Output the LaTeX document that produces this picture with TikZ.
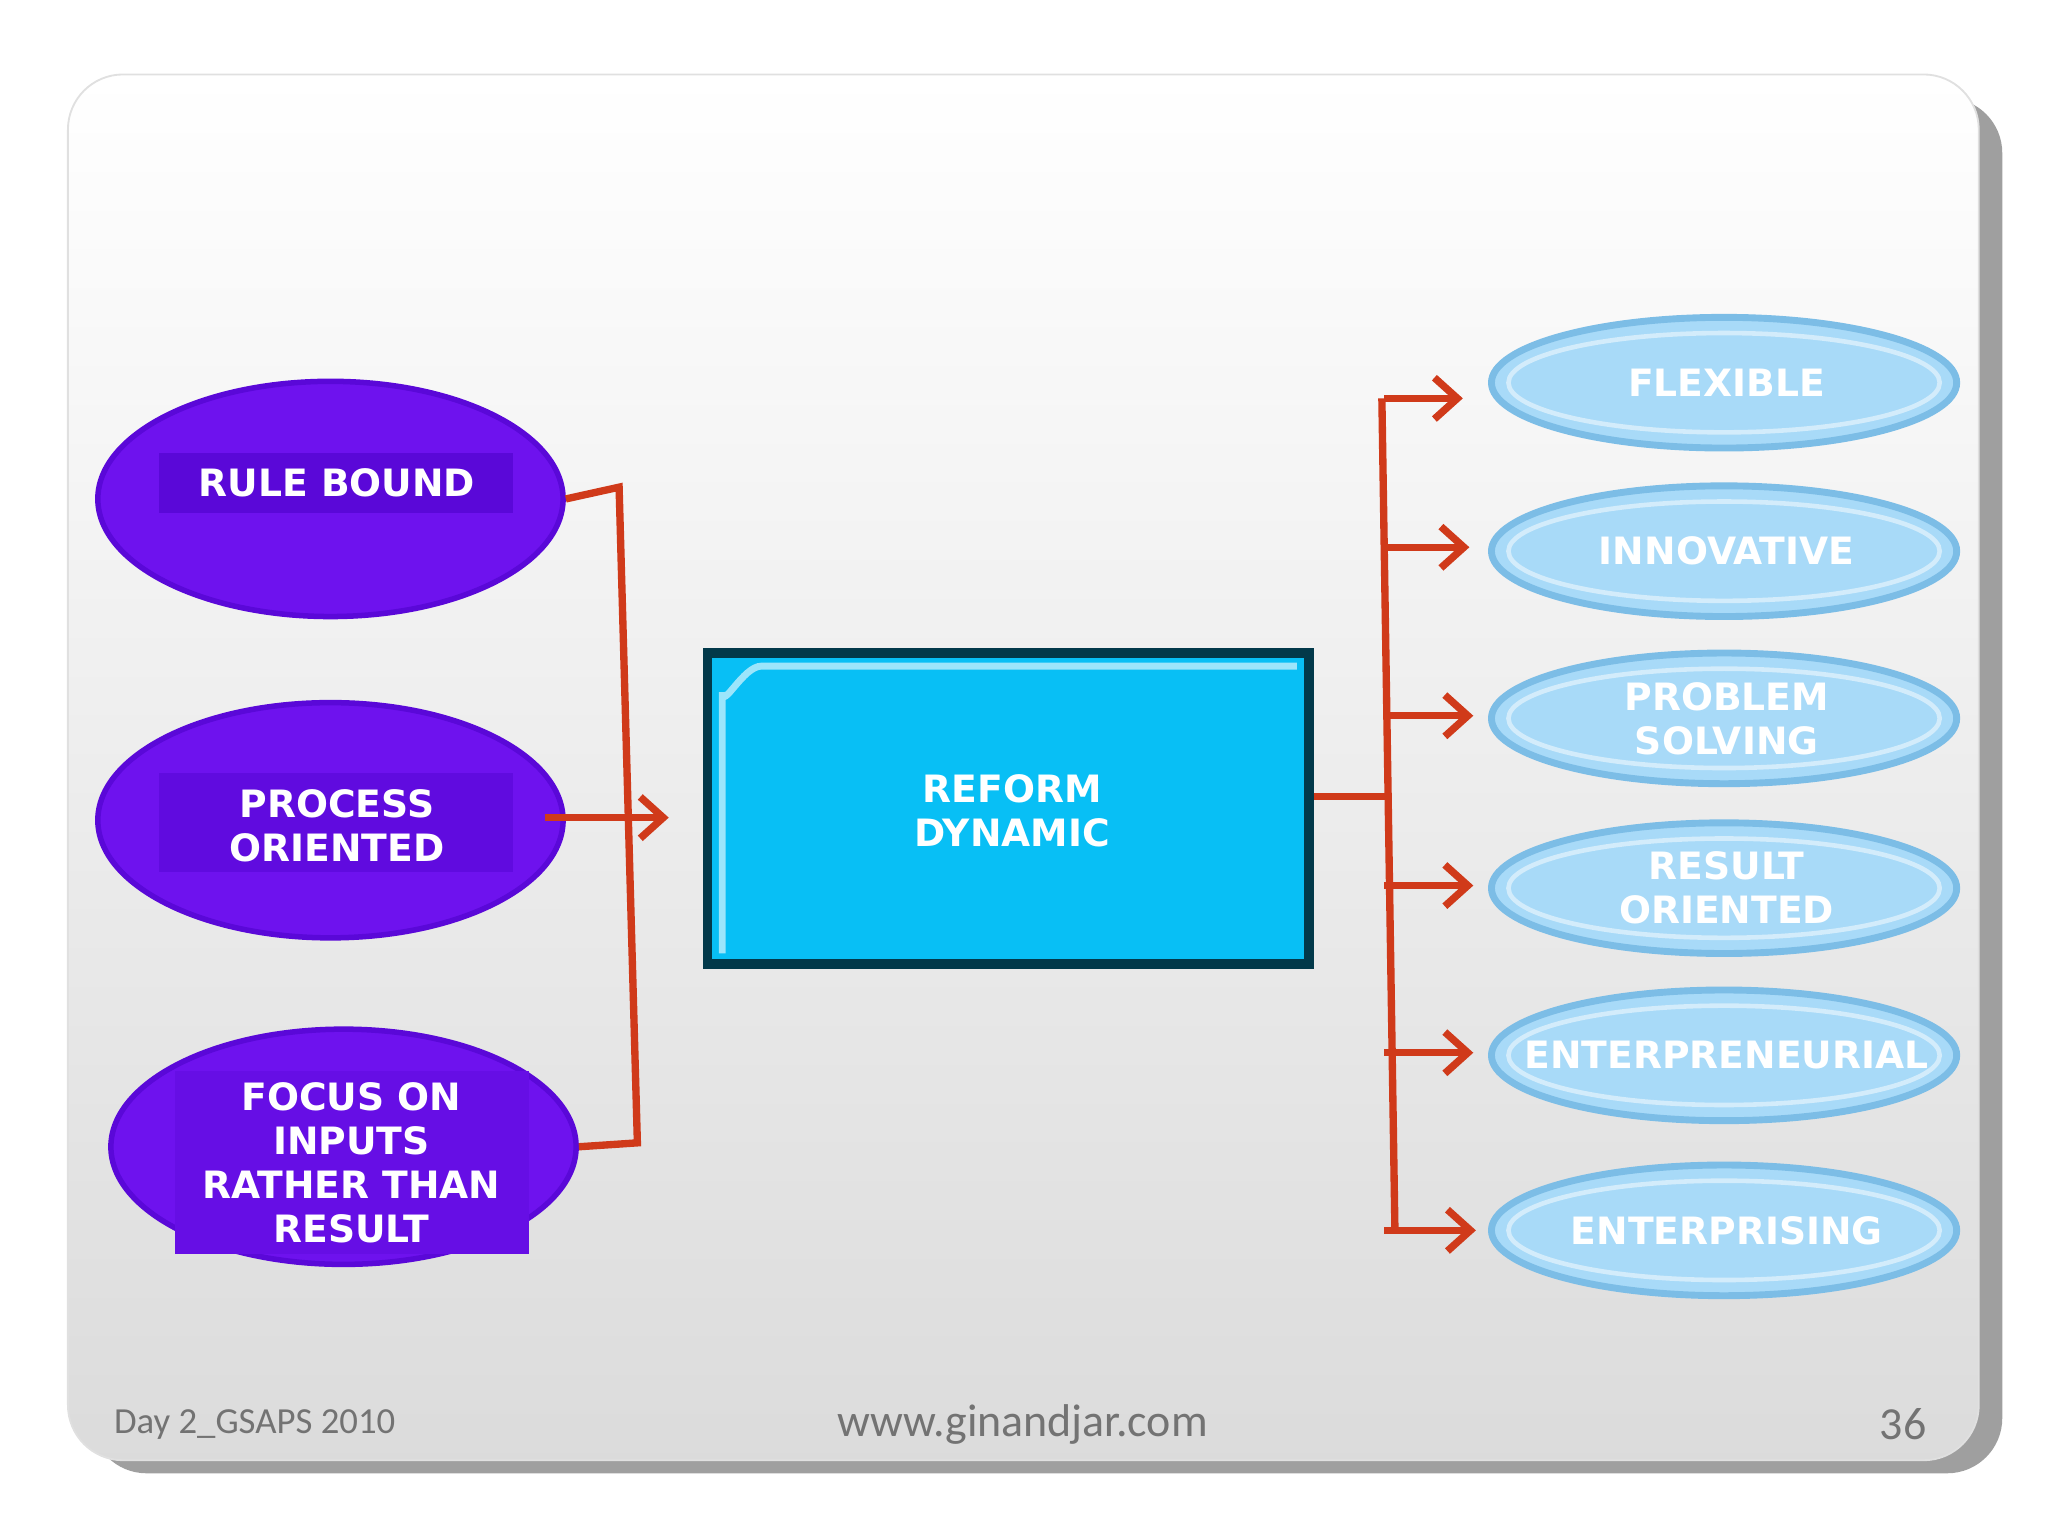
\documentclass[tikz,border=0pt]{standalone}
\usepackage{fontspec}
\setmainfont{DejaVu Sans}
\newfontfamily\foot{Carlito}
\usetikzlibrary{shapes.geometric,arrows.meta}
\definecolor{purp}{HTML}{6E12EE}
\definecolor{purpd}{HTML}{5A08D8}
\definecolor{cyanb}{HTML}{08BFF5}
\definecolor{lb}{HTML}{A8DAF8}
\definecolor{lbd}{HTML}{7CBDE6}
\definecolor{redl}{HTML}{D03A1A}
\begin{document}
\begin{tikzpicture}[x=0.01cm,y=-0.01cm,
 lt/.style={font=\fontsize{8.2}{9.6}\selectfont\bfseries, text=white, align=center},
 pe/.style={ellipse, fill=purp, draw=purpd, line width=1.2pt, minimum width=3.56cm, minimum height=1.8cm, inner sep=0pt},
 be/.style={ellipse, fill=lb, draw=lbd, line width=1.5pt, minimum width=3.56cm, minimum height=1.0cm, inner sep=0pt},
 con/.style={draw=redl, line width=1.6pt},
 arr/.style={con, -{Straight Barb[length=5pt,width=9pt]}}]
\useasboundingbox (0,0) rectangle (1568,1176);
\fill[gray!75, rounded corners=12] (70,75) rectangle (1533,1128);
\fill[rounded corners=12, top color=white, bottom color=black!14, draw=black!12] (52,57) rectangle (1515,1118);
% left
\node[pe] (rb) at (253,382) {};
\fill[purpd] (122,347) rectangle (393,393);
\node[lt] at (258,370) {RULE BOUND};
\node[pe] (po) at (253,628) {};
\fill[purpd!70!purp] (122,592) rectangle (393,668);
\node[lt] at (258,632) {PROCESS\\ORIENTED};
\node[pe] (fo) at (263,878) {};
\fill[purpd!40!purp] (134,820) rectangle (405,960);
\node[lt] at (269,890) {FOCUS ON\\INPUTS\\RATHER THAN\\RESULT};
% center
\node[draw=black!70!cyanb, line width=2pt, fill=cyanb, minimum width=4.6cm, minimum height=2.38cm] (rd) at (772,619) {};
\draw[white!60!cyanb, line width=1.5pt] (553,730) -- (553,530) to[out=-90,in=180] (583,510) -- (993,510);
\node[lt] at (775,621) {REFORM\\DYNAMIC};
% right
\foreach \n/\y/\t in {f/293/FLEXIBLE, i/422/INNOVATIVE, p/550/{PROBLEM\\SOLVING}, r/680/{RESULT\\ORIENTED}, e/808/ENTERPRENEURIAL, s/942/ENTERPRISING}{
  \node[be] (\n) at (1320,\y) {};
  \draw[white!50!lb, line width=1pt] (1320,\y) ellipse [x radius=1.65cm, y radius=0.38cm];
  \node[lt] at (1322,\y) {\t};
}
% connectors
\coordinate (a1) at (474,373); \coordinate (a2) at (488,875);
\draw[con] (rb.east) -- (a1) -- (a2) -- (fo.east);
\coordinate (pe) at (512,626);
\coordinate (ps) at (417,626);
\draw[arr] (ps) -- (pe);
\coordinate (m) at (1062,610);
\draw[con] (rd.east |- m) -- (m);
\coordinate (v1) at (1058,305); \coordinate (v2) at (1068,942);
\draw[con] (v1) -- (v2);
\foreach \n/\y/\x in {f/305/1120, i/419/1125, p/548/1128, r/678/1128, e/806/1128, s/942/1130}{
  \coordinate (t\n) at (\x,\y);
  \coordinate (s\n) at (1060,\y);
  \draw[arr] (s\n) -- (t\n);
}
% footer
\node[font=\foot\fontsize{8}{10}\selectfont, text=black!55] (d) at (195,1091) {Day 2\_GSAPS 2010};
\node[font=\foot\fontsize{10}{12}\selectfont, text=black!55] (w) at (783,1091) {www.ginandjar.com};
\node[font=\foot\fontsize{10}{12}\selectfont, text=black!55] (n) at (1457,1090) {36};
\end{tikzpicture}
\end{document}
